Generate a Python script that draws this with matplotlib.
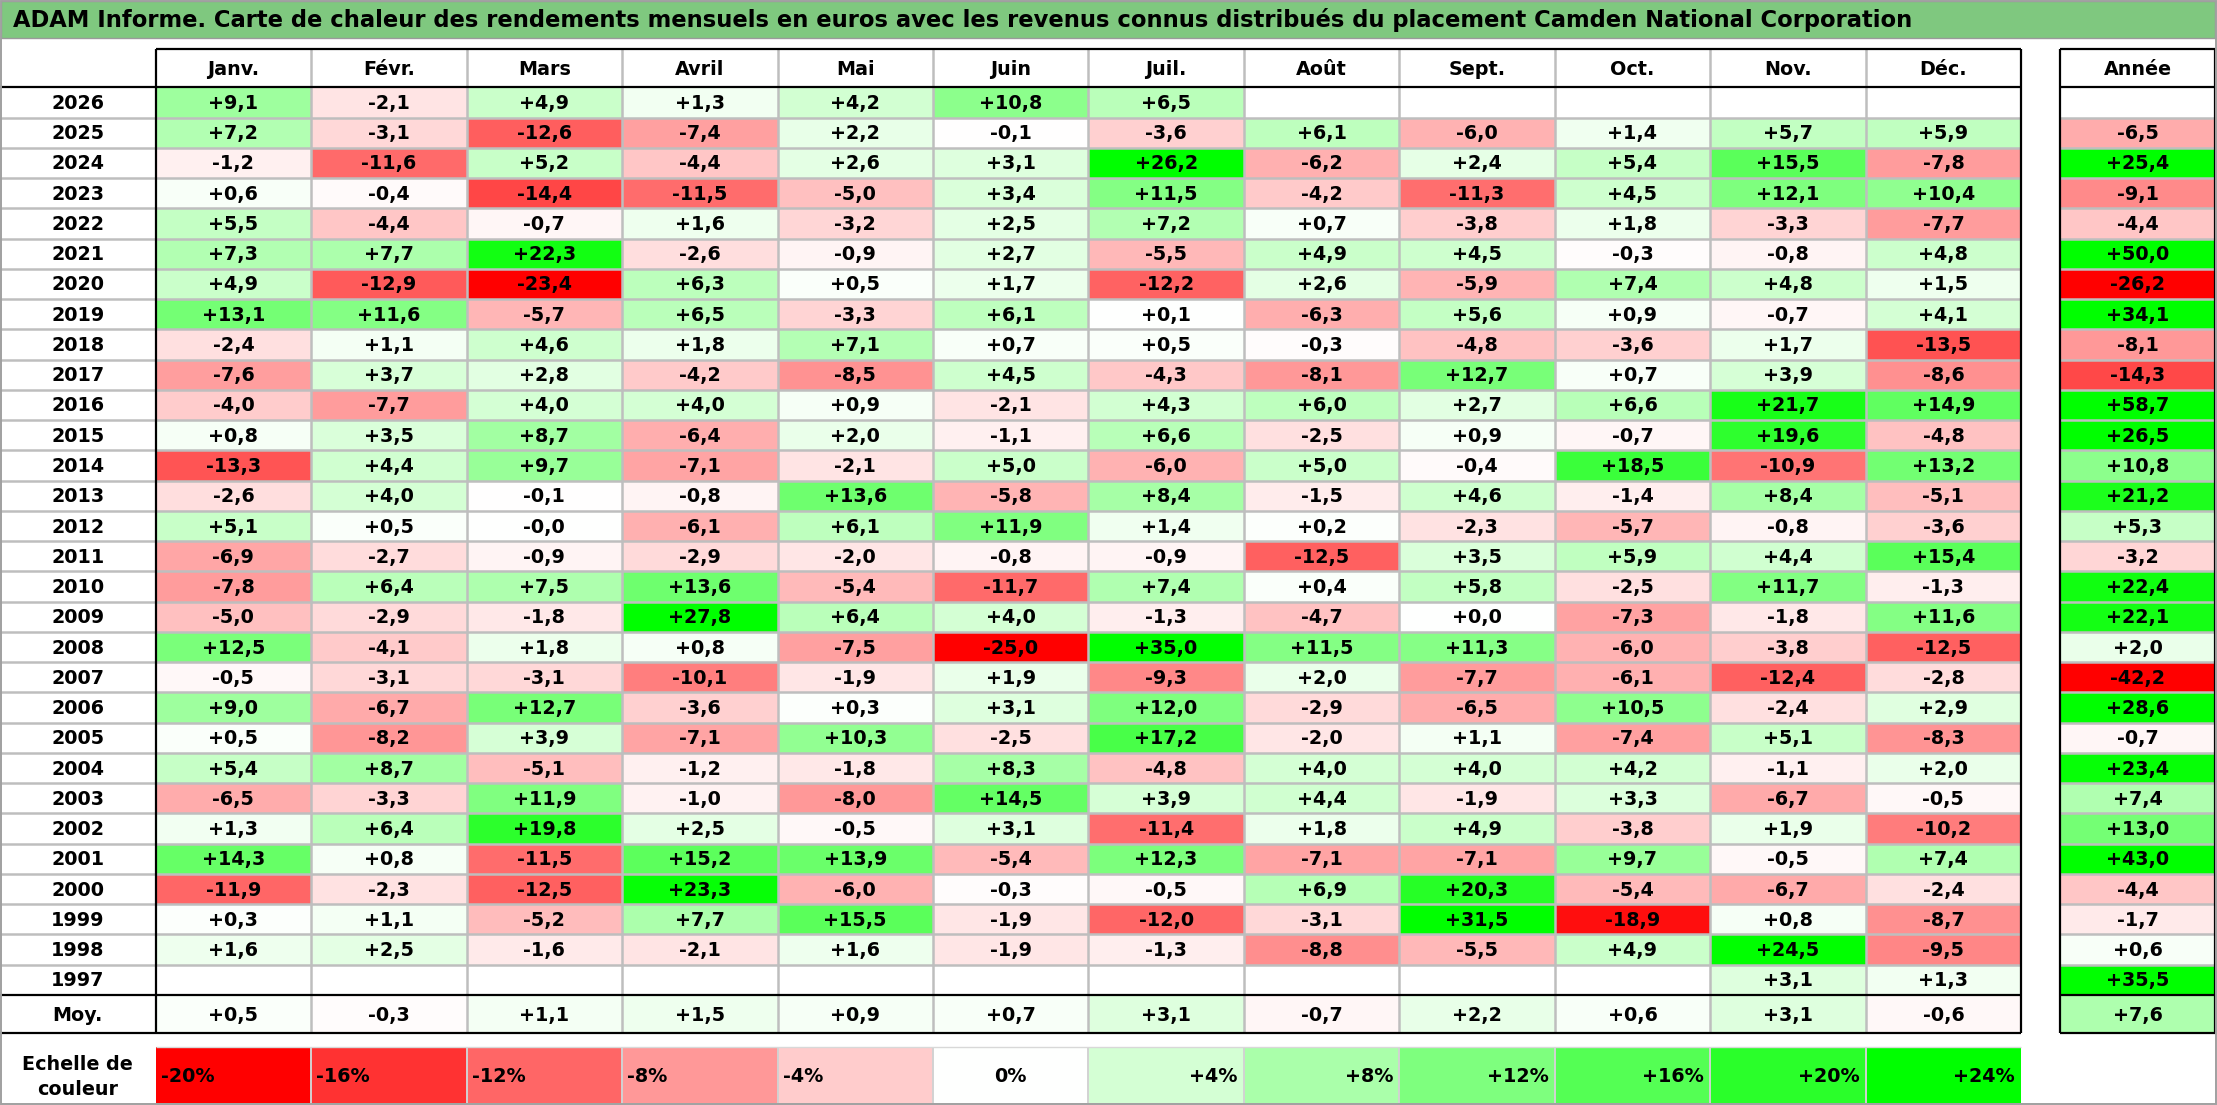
import numpy as np
import matplotlib
matplotlib.use("Agg")
import matplotlib.pyplot as plt
from matplotlib.colors import LinearSegmentedColormap, TwoSlopeNorm
from matplotlib.patches import Rectangle

nan = np.nan

title = ("ADAM Informe. Carte de chaleur des rendements mensuels en euros avec les "
         "revenus connus distribués du placement Camden National Corporation")
months = ["Janv.", "Févr.", "Mars", "Avril", "Mai", "Juin", "Juil.", "Août",
          "Sept.", "Oct.", "Nov.", "Déc."]
years = [2026, 2025, 2024, 2023, 2022, 2021, 2020, 2019, 2018, 2017, 2016, 2015,
         2014, 2013, 2012, 2011, 2010, 2009, 2008, 2007, 2006, 2005, 2004, 2003,
         2002, 2001, 2000, 1999, 1998, 1997]

y2026 = [9.1, -2.1, 4.9, 1.3, 4.2, 10.8, 6.5, nan, nan, nan, nan, nan]
y2025 = [7.2, -3.1, -12.6, -7.4, 2.2, -0.1, -3.6, 6.1, -6.0, 1.4, 5.7, 5.9]
y2024 = [-1.2, -11.6, 5.2, -4.4, 2.6, 3.1, 26.2, -6.2, 2.4, 5.4, 15.5, -7.8]
y2023 = [0.6, -0.4, -14.4, -11.5, -5.0, 3.4, 11.5, -4.2, -11.3, 4.5, 12.1, 10.4]
y2022 = [5.5, -4.4, -0.7, 1.6, -3.2, 2.5, 7.2, 0.7, -3.8, 1.8, -3.3, -7.7]
y2021 = [7.3, 7.7, 22.3, -2.6, -0.9, 2.7, -5.5, 4.9, 4.5, -0.3, -0.8, 4.8]
y2020 = [4.9, -12.9, -23.4, 6.3, 0.5, 1.7, -12.2, 2.6, -5.9, 7.4, 4.8, 1.5]
y2019 = [13.1, 11.6, -5.7, 6.5, -3.3, 6.1, 0.1, -6.3, 5.6, 0.9, -0.7, 4.1]
y2018 = [-2.4, 1.1, 4.6, 1.8, 7.1, 0.7, 0.5, -0.3, -4.8, -3.6, 1.7, -13.5]
y2017 = [-7.6, 3.7, 2.8, -4.2, -8.5, 4.5, -4.3, -8.1, 12.7, 0.7, 3.9, -8.6]
y2016 = [-4.0, -7.7, 4.0, 4.0, 0.9, -2.1, 4.3, 6.0, 2.7, 6.6, 21.7, 14.9]
y2015 = [0.8, 3.5, 8.7, -6.4, 2.0, -1.1, 6.6, -2.5, 0.9, -0.7, 19.6, -4.8]
y2014 = [-13.3, 4.4, 9.7, -7.1, -2.1, 5.0, -6.0, 5.0, -0.4, 18.5, -10.9, 13.2]
y2013 = [-2.6, 4.0, -0.1, -0.8, 13.6, -5.8, 8.4, -1.5, 4.6, -1.4, 8.4, -5.1]
y2012 = [5.1, 0.5, -0.0, -6.1, 6.1, 11.9, 1.4, 0.2, -2.3, -5.7, -0.8, -3.6]
y2011 = [-6.9, -2.7, -0.9, -2.9, -2.0, -0.8, -0.9, -12.5, 3.5, 5.9, 4.4, 15.4]
y2010 = [-7.8, 6.4, 7.5, 13.6, -5.4, -11.7, 7.4, 0.4, 5.8, -2.5, 11.7, -1.3]
y2009 = [-5.0, -2.9, -1.8, 27.8, 6.4, 4.0, -1.3, -4.7, 0.0, -7.3, -1.8, 11.6]
y2008 = [12.5, -4.1, 1.8, 0.8, -7.5, -25.0, 35.0, 11.5, 11.3, -6.0, -3.8, -12.5]
y2007 = [-0.5, -3.1, -3.1, -10.1, -1.9, 1.9, -9.3, 2.0, -7.7, -6.1, -12.4, -2.8]
y2006 = [9.0, -6.7, 12.7, -3.6, 0.3, 3.1, 12.0, -2.9, -6.5, 10.5, -2.4, 2.9]
y2005 = [0.5, -8.2, 3.9, -7.1, 10.3, -2.5, 17.2, -2.0, 1.1, -7.4, 5.1, -8.3]
y2004 = [5.4, 8.7, -5.1, -1.2, -1.8, 8.3, -4.8, 4.0, 4.0, 4.2, -1.1, 2.0]
y2003 = [-6.5, -3.3, 11.9, -1.0, -8.0, 14.5, 3.9, 4.4, -1.9, 3.3, -6.7, -0.5]
y2002 = [1.3, 6.4, 19.8, 2.5, -0.5, 3.1, -11.4, 1.8, 4.9, -3.8, 1.9, -10.2]
y2001 = [14.3, 0.8, -11.5, 15.2, 13.9, -5.4, 12.3, -7.1, -7.1, 9.7, -0.5, 7.4]
y2000 = [-11.9, -2.3, -12.5, 23.3, -6.0, -0.3, -0.5, 6.9, 20.3, -5.4, -6.7, -2.4]
y1999 = [0.3, 1.1, -5.2, 7.7, 15.5, -1.9, -12.0, -3.1, 31.5, -18.9, 0.8, -8.7]
y1998 = [1.6, 2.5, -1.6, -2.1, 1.6, -1.9, -1.3, -8.8, -5.5, 4.9, 24.5, -9.5]
y1997 = [nan, nan, nan, nan, nan, nan, nan, nan, nan, nan, 3.1, 1.3]

annual = [nan, -6.5, 25.4, -9.1, -4.4, 50.0, -26.2, 34.1, -8.1, -14.3, 58.7, 26.5,
          10.8, 21.2, 5.3, -3.2, 22.4, 22.1, 2.0, -42.2, 28.6, -0.7, 23.4, 7.4,
          13.0, 43.0, -4.4, -1.7, 0.6, 35.5]

avg_label = "Moy."
avg_monthly = [0.5, -0.3, 1.1, 1.5, 0.9, 0.7, 3.1, -0.7, 2.2, 0.6, 3.1, -0.6]
avg_annual = 7.6
year_header = "Année"

scale_title = "Echelle de\ncouleur"
scale_values = [-20, -16, -12, -8, -4, 0, 4, 8, 12, 16, 20, 24]
scale_labels = ["-20%", "-16%", "-12%", "-8%", "-4%", "0%", "+4%", "+8%",
                "+12%", "+16%", "+20%", "+24%"]

monthly = np.array([y2026, y2025, y2024, y2023, y2022, y2021, y2020, y2019, y2018,
                    y2017, y2016, y2015, y2014, y2013, y2012, y2011, y2010, y2009,
                    y2008, y2007, y2006, y2005, y2004, y2003, y2002, y2001, y2000,
                    y1999, y1998, y1997], dtype=float)


def fmt(v):
    if v is None or np.isnan(v):
        return ""
    sign = "-" if np.signbit(v) else "+"
    return sign + f"{abs(v):.1f}".replace(".", ",")


# ---------------- layout (pixels) ----------------
W, H = 2217, 1105
title_bot = 37
hdr_top, hdr_bot = 49.3, 87.3
n_rows = len(years)
row_h = (995.0 - hdr_bot) / n_rows
moy_top, moy_bot = 995.0, 1033.3
sc_top, sc_bot = 1046.7, 1103.3
yc_right = 155.7
col_w = (2021.1 - yc_right) / 12
x_end = yc_right + 12 * col_w
ann_l, ann_r = 2060.0, 2215.0

GRID = "#BEBEBE"
BLACK = "#000000"
TITLE_BG = "#7FC87F"
FS = 13.8

cmap = LinearSegmentedColormap.from_list(
    "rg", [(0.0, (1, 0, 0)), (0.5, (1, 1, 1)), (1.0, (0, 1, 0))])
cmap.set_bad("white")
norm = TwoSlopeNorm(vmin=-20, vcenter=0, vmax=24)

fig = plt.figure(figsize=(W / 100, H / 100), dpi=100)
ax = fig.add_axes([0, 0, 1, 1])
ax.set_xlim(0, W)
ax.set_ylim(H, 0)
ax.axis("off")

# title bar
ax.add_patch(Rectangle((0.5, 0.5), ann_r - 0.5, title_bot, facecolor=TITLE_BG,
                       edgecolor="#9A9A9A", lw=1.0, zorder=1))
t = ax.text(13, title_bot / 2 + 1, title, fontsize=16, fontweight="bold",
            ha="left", va="center", zorder=5)
fig.canvas.draw()
bb = t.get_window_extent(renderer=fig.canvas.get_renderer())
t.set_fontsize(16 * 1898.0 / bb.width)

xs = yc_right + col_w * np.arange(13)
ys = hdr_bot + row_h * np.arange(n_rows + 1)

# heatmap cells
ax.pcolormesh(xs, ys, np.ma.masked_invalid(monthly), cmap=cmap, norm=norm,
              shading="flat", zorder=1)
ax.pcolormesh([ann_l, ann_r], ys, np.ma.masked_invalid(np.array(annual)[:, None]),
              cmap=cmap, norm=norm, shading="flat", zorder=1)
ax.pcolormesh(xs, [moy_top, moy_bot], np.array([avg_monthly]), cmap=cmap, norm=norm,
              shading="flat", zorder=1)
ax.pcolormesh([ann_l, ann_r], [moy_top, moy_bot], np.array([[avg_annual]]),
              cmap=cmap, norm=norm, shading="flat", zorder=1)
ax.pcolormesh(xs, [sc_top, sc_bot], np.array([scale_values], dtype=float), cmap=cmap,
              norm=norm, shading="flat", zorder=1)

# gray grid
lw_g = 1.8
ax.hlines(ys[1:-1], 0, x_end, color=GRID, lw=lw_g, zorder=2)
ax.hlines(ys[1:-1], ann_l, ann_r, color=GRID, lw=lw_g, zorder=2)
ax.vlines(xs[1:-1], hdr_top, moy_bot, color=GRID, lw=lw_g, zorder=2)
ax.vlines(xs[1:-1], sc_top, sc_bot, color="#D2D2D2", lw=1.4, zorder=2)
ax.hlines([sc_top], xs[0], xs[-1], color="#D8D8D8", lw=1.0, zorder=2)

# black borders
lw_b = 1.6
ax.hlines([hdr_top], yc_right, x_end, color=BLACK, lw=lw_b, zorder=3)
ax.hlines([hdr_bot, moy_top, moy_bot], 0, x_end, color=BLACK, lw=lw_b, zorder=3)
ax.vlines([yc_right, x_end], hdr_top, moy_bot, color=BLACK, lw=lw_b, zorder=3)
ax.hlines([hdr_top, hdr_bot, moy_top, moy_bot], ann_l, ann_r, color=BLACK, lw=lw_b,
          zorder=3)
ax.vlines([ann_l, ann_r], hdr_top, moy_bot, color=BLACK, lw=lw_b, zorder=3)

# outer frame
ax.add_patch(Rectangle((0.8, 0.8), ann_r, H - 2.0, fill=False, edgecolor="#A0A0A0",
                       lw=1.4, zorder=4))

# texts
hdr_c = (hdr_top + hdr_bot) / 2
xc = (xs[:-1] + xs[1:]) / 2
yc = (ys[:-1] + ys[1:]) / 2
ann_c = (ann_l + ann_r) / 2
tk = dict(fontsize=FS, fontweight="bold", ha="center", va="center", zorder=6)

for j, m in enumerate(months):
    ax.text(xc[j], hdr_c + 1, m, **tk)
ax.text(ann_c, hdr_c + 1, year_header, **tk)

for i, yr in enumerate(years):
    ax.text(yc_right / 2, yc[i] + 1, str(yr), **tk)
    for j in range(12):
        s = fmt(monthly[i, j])
        if s:
            ax.text(xc[j], yc[i] + 1, s, **tk)
    s = fmt(annual[i])
    if s:
        ax.text(ann_c, yc[i] + 1, s, **tk)

moy_c = (moy_top + moy_bot) / 2
ax.text(yc_right / 2, moy_c + 1, avg_label, **tk)
for j in range(12):
    ax.text(xc[j], moy_c + 1, fmt(avg_monthly[j]), **tk)
ax.text(ann_c, moy_c + 1, fmt(avg_annual), **tk)

sc_c = (sc_top + sc_bot) / 2
ax.text(yc_right / 2, sc_c + 2, scale_title, fontsize=FS, fontweight="bold",
        ha="center", va="center", linespacing=1.45, zorder=6)
for j, (v, lab) in enumerate(zip(scale_values, scale_labels)):
    if v < 0:
        ax.text(xs[j] + 5, sc_c + 2, lab, fontsize=FS, fontweight="bold",
                ha="left", va="center", zorder=6)
    elif v == 0:
        ax.text(xc[j], sc_c + 2, lab, fontsize=FS, fontweight="bold",
                ha="center", va="center", zorder=6)
    else:
        ax.text(xs[j + 1] - 6, sc_c + 2, lab, fontsize=FS, fontweight="bold",
                ha="right", va="center", zorder=6)

fig.savefig("out.png", dpi=100, facecolor="white")
